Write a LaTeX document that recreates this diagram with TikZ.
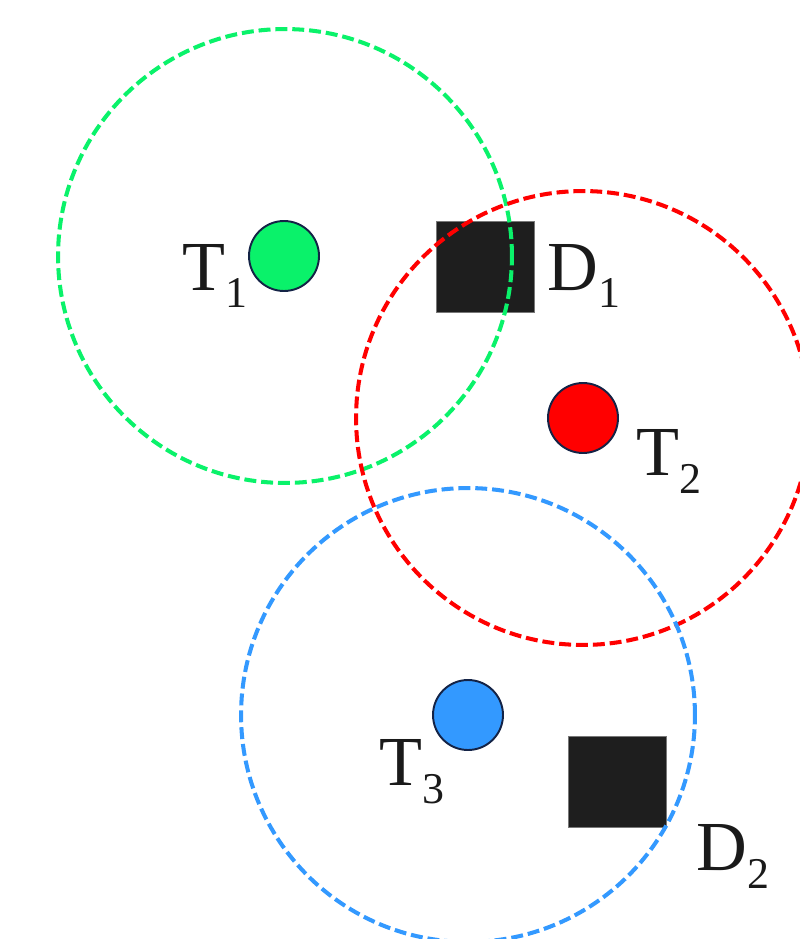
\documentclass[tikz,border=0pt]{standalone}
\usepackage{fontspec}
\setmainfont{Liberation Serif}
\definecolor{rangegreen}{RGB}{10,242,106}
\definecolor{rangered}{RGB}{255,0,0}
\definecolor{rangeblue}{RGB}{51,153,255}
\definecolor{dotedge}{RGB}{20,35,70}
\definecolor{boxgray}{RGB}{30,30,30}
\definecolor{inkgray}{RGB}{26,26,26}
\newcommand{\sublabel}[2]{#1\raisebox{-0.36cm}{\fontsize{25}{25}\selectfont #2}}
\tikzset{
  reach/.style={line width=2.3pt, dash pattern=on 6.8pt off 2.8pt},
  target/.style={circle, draw=dotedge, line width=1.1pt, minimum size=1.4cm, inner sep=0pt},
  depot/.style={rectangle, fill=boxgray, draw=boxgray!60, line width=0.4pt,
    minimum width=1.96cm, minimum height=1.82cm, inner sep=0pt},
  tag/.style={anchor=base west, inner sep=0pt, text=inkgray,
    font=\fontsize{40}{40}\selectfont}
}
\begin{document}
\begin{tikzpicture}[x=0.02cm, y=-0.02cm]
            \useasboundingbox (0,0) rectangle (800,939);
            \clip (0,0) rectangle (800,939);
            % depots
            \node[depot] (d1) at (485,267) {};
            \node[depot] (d2) at (617,782) {};
            % ranges
            \draw[reach, rangegreen] (285,256) circle[radius=4.54cm];
            \draw[reach, rangered] (583,418) circle[radius=4.54cm];
            \draw[reach, rangeblue] (468,715) circle[radius=4.54cm];
            % targets
            \node[target, fill=rangegreen] (t1) at (284,256) {};
            \node[target, fill=rangered] (t2) at (583,418) {};
            \node[target, fill=rangeblue] (t3) at (468,715) {};
            % labels
            \node[tag] (t1lbl) at (182,290) {\sublabel{T}{1}};
            \node[tag] (d1lbl) at (547,290) {\sublabel{D}{1}};
            \node[tag] (t2lbl) at (636,475) {\sublabel{T}{2}};
            \node[tag] (t3lbl) at (379,785) {\sublabel{T}{3}};
            \node[tag] (d2lbl) at (696,870) {\sublabel{D}{2}};
        \end{tikzpicture}
\end{document}
